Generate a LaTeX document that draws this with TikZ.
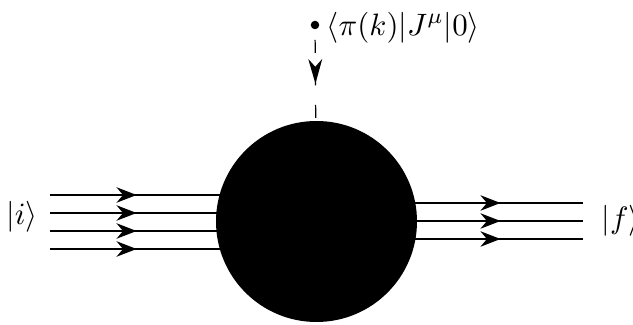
\documentclass[tikz,border=0pt]{standalone}
\usepackage{amsmath, amssymb}
\usetikzlibrary{arrows.meta, positioning, decorations.markings, backgrounds}

\tikzset{
    fermion/.style={decoration={markings, mark=at position #1 with {\arrow{Stealth[length=6.5pt, width=5pt]}}}, postaction={decorate}},
    current/.style={dash pattern=on 4.2pt off 6.3pt, dash phase=5.66pt, decoration={markings, mark=at position 19pt with {\arrow{Stealth[length=8pt, width=4.5pt, inset=2.5pt]}}}, postaction={decorate}},
}

\begin{document}
\begin{tikzpicture}[x=0.3233pt, y=-0.3233pt]
    \useasboundingbox (0,0) rectangle (633,325);
    \node[circle, fill=black, minimum size=201pt*0.3233, inner sep=0pt] (blob) at (316.5,221.5) {};
    \node[circle, fill=black, minimum size=8.5pt*0.3233, inner sep=0pt] (dot) at (315,25) {};
    \node[right=2pt of dot, inner sep=0pt, yshift=-0.8pt] (amp) {$\langle \pi(k) | J^\mu | 0 \rangle$};
    \node (ini) at (22,217) {$|i\rangle$};
    \node[anchor=west, inner sep=0pt] (fin) at (601,221) {$|f\rangle$};

    % incoming and outgoing lines
    \foreach \y [count=\i] in {195,213,231,249}
        \coordinate (in\i) at (50,\y);
    \foreach \y [count=\i] in {203,221,239}
        \coordinate (out\i) at (583,\y);

    \begin{scope}[on background layer]
        \foreach \i in {1,...,4}
            \draw[fermion=28pt] (in\i) -- (in\i -| blob.center);
        \foreach \i in {1,...,3}
            \draw[fermion=59.5pt] (out\i -| blob.center) -- (out\i);
        \draw[current] (dot.center) -- (blob.center);
    \end{scope}
\end{tikzpicture}
\end{document}
